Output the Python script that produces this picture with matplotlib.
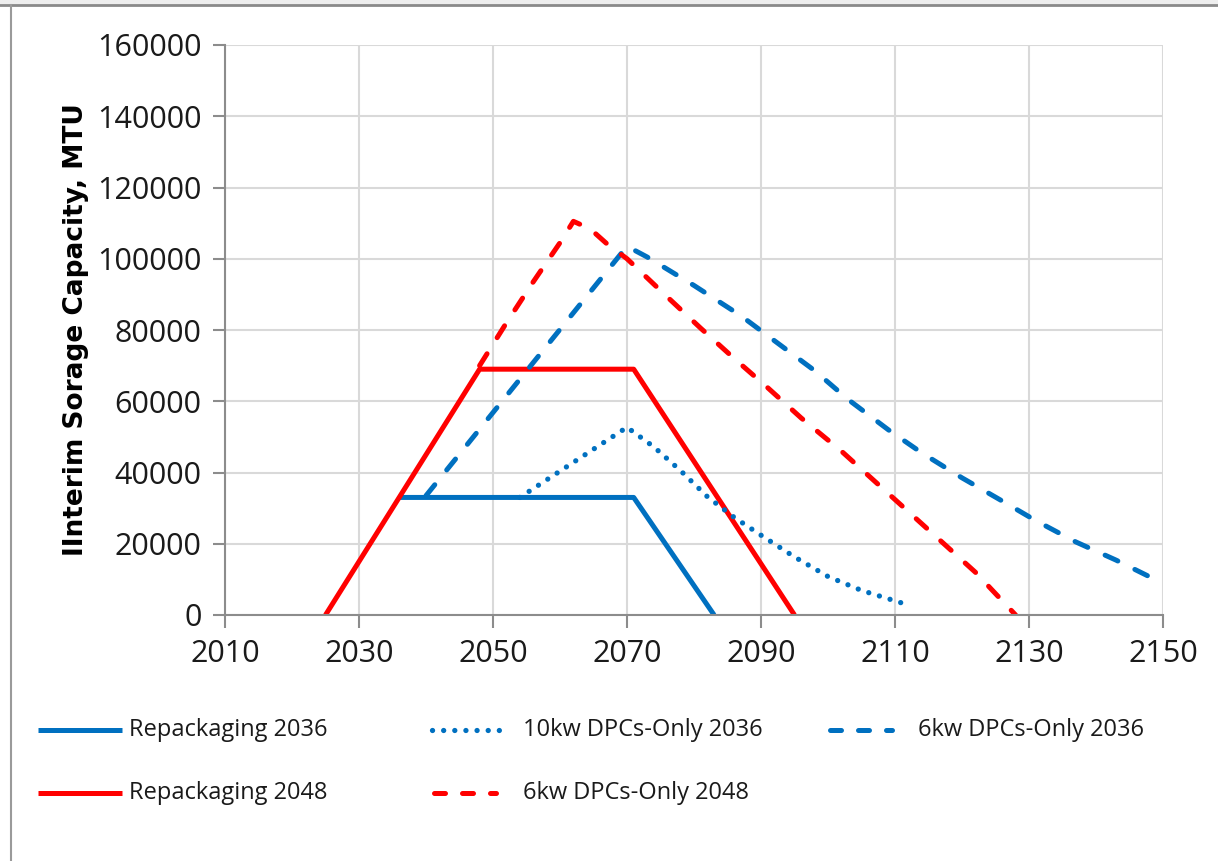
import matplotlib
matplotlib.use('Agg')
import matplotlib.pyplot as plt
from matplotlib.lines import Line2D
from matplotlib.patches import Rectangle

# data
rep2036_x = [2036, 2071, 2083]
rep2036_y = [33000, 33000, 0]

rep2048_x = [2025, 2048, 2071, 2095]
rep2048_y = [0, 69000, 69000, 0]

dpc10_2036_x = [2054, 2070, 2074, 2078, 2082, 2086, 2090, 2095, 2100, 2105, 2112]
dpc10_2036_y = [33000, 52700, 47200, 40500, 33200, 27400, 22400, 16300, 10800, 6900, 2800]

dpc6_2036_x = [2040, 2070, 2073, 2080, 2087, 2092, 2098, 2103, 2109, 2114, 2120, 2126, 2131, 2137, 2143, 2149]
dpc6_2036_y = [33500, 103500, 100500, 92500, 84000, 77000, 68600, 60500, 52000, 45500, 38500, 32000, 26500, 20500, 15400, 9800]

dpc6_2048_x = [2048, 2052, 2056, 2060, 2062, 2064.5, 2067, 2070, 2076, 2081, 2086, 2091, 2096, 2102, 2107, 2112, 2117, 2122, 2128]
dpc6_2048_y = [70000, 82000, 93500, 104500, 110500, 108400, 104200, 100000, 89300, 80500, 72000, 63800, 55300, 46000, 37500, 29000, 20500, 12000, 0]

x_ticks = list(range(2010, 2151, 20))
y_ticks = list(range(0, 160001, 20000))

blue = '#0070C0'
red = '#FF0000'
font = ['Open Sans', 'DejaVu Sans']
W, H = 1218, 861

fig = plt.figure(figsize=(W / 100, H / 100), dpi=100)

# screenshot frame
fig.patches.append(Rectangle((0, 1 - 5 / H), 1, 5 / H, transform=fig.transFigure,
                             color='#eeeeee', zorder=0))
fig.lines.append(Line2D([0, 1], [1 - 5 / H, 1 - 5 / H], transform=fig.transFigure,
                        color='#8a8a8a', lw=2))
fig.lines.append(Line2D([11 / W, 11 / W], [0, 1 - 5 / H], transform=fig.transFigure,
                        color='#9a9a9a', lw=1.5))

ax = fig.add_axes([225 / W, 1 - 615 / H, 938 / W, 570 / H])

styles = {
    'Repackaging 2036': dict(color=blue, lw=3.6, solid_capstyle='butt'),
    'Repackaging 2048': dict(color=red, lw=3.6, solid_capstyle='butt'),
    '10kw DPCs-Only 2036': dict(color=blue, lw=3.8, linestyle=(0, (0.01, 2.1)), dash_capstyle='round'),
    '6kw DPCs-Only 2036': dict(color=blue, lw=3.6, linestyle=(0, (2.8, 3.8)), dash_capstyle='round'),
    '6kw DPCs-Only 2048': dict(color=red, lw=3.6, linestyle=(0, (2.8, 3.8)), dash_capstyle='round'),
}

ax.plot(rep2036_x, rep2036_y, **styles['Repackaging 2036'])
ax.plot(rep2048_x, rep2048_y, **styles['Repackaging 2048'])
ax.plot(dpc10_2036_x, dpc10_2036_y, **styles['10kw DPCs-Only 2036'])
ax.plot(dpc6_2036_x, dpc6_2036_y, **styles['6kw DPCs-Only 2036'])
ax.plot(dpc6_2048_x, dpc6_2048_y, **styles['6kw DPCs-Only 2048'])

ax.set_xlim(2010, 2150)
ax.set_ylim(0, 160000)
ax.set_xticks(x_ticks)
ax.set_yticks(y_ticks)
ax.grid(True, color='#d9d9d9', lw=1.5)
ax.set_axisbelow(True)
for s in ['top', 'right']:
    ax.spines[s].set_visible(False)
for s in ['left', 'bottom']:
    ax.spines[s].set_color('#8c8c8c')
    ax.spines[s].set_linewidth(1.5)
ax.tick_params(axis='both', direction='out', length=9, width=1.5, color='#8c8c8c',
               labelsize=22, labelcolor='#1a1a1a', pad=8)
for lab in ax.get_xticklabels() + ax.get_yticklabels():
    lab.set_family(font)

ax.set_ylabel('IInterim Sorage Capacity, MTU', fontsize=19, fontweight='bold',
              family='DejaVu Sans', labelpad=6)

# legend laid out like the original (handle x0, x1, text x, row y in pixels)
legend_items = [
    ('Repackaging 2036', 38, 122, 129, 730),
    ('10kw DPCs-Only 2036', 432, 508, 523, 730),
    ('6kw DPCs-Only 2036', 830, 892, 918, 730),
    ('Repackaging 2048', 38, 122, 129, 793),
    ('6kw DPCs-Only 2048', 434, 496, 523, 793),
]
for label, hx0, hx1, tx, ry in legend_items:
    st = dict(styles[label])
    if label.startswith('6kw'):
        st['linestyle'] = (0, (2.2, 3.4))
    fig.lines.append(Line2D([hx0 / W, hx1 / W], [1 - ry / H, 1 - ry / H],
                            transform=fig.transFigure, **st))
    fig.text(tx / W, 1 - ry / H, label, family=font, fontsize=17, color='#1a1a1a',
             va='center', ha='left')

fig.savefig('out.png', dpi=100)
